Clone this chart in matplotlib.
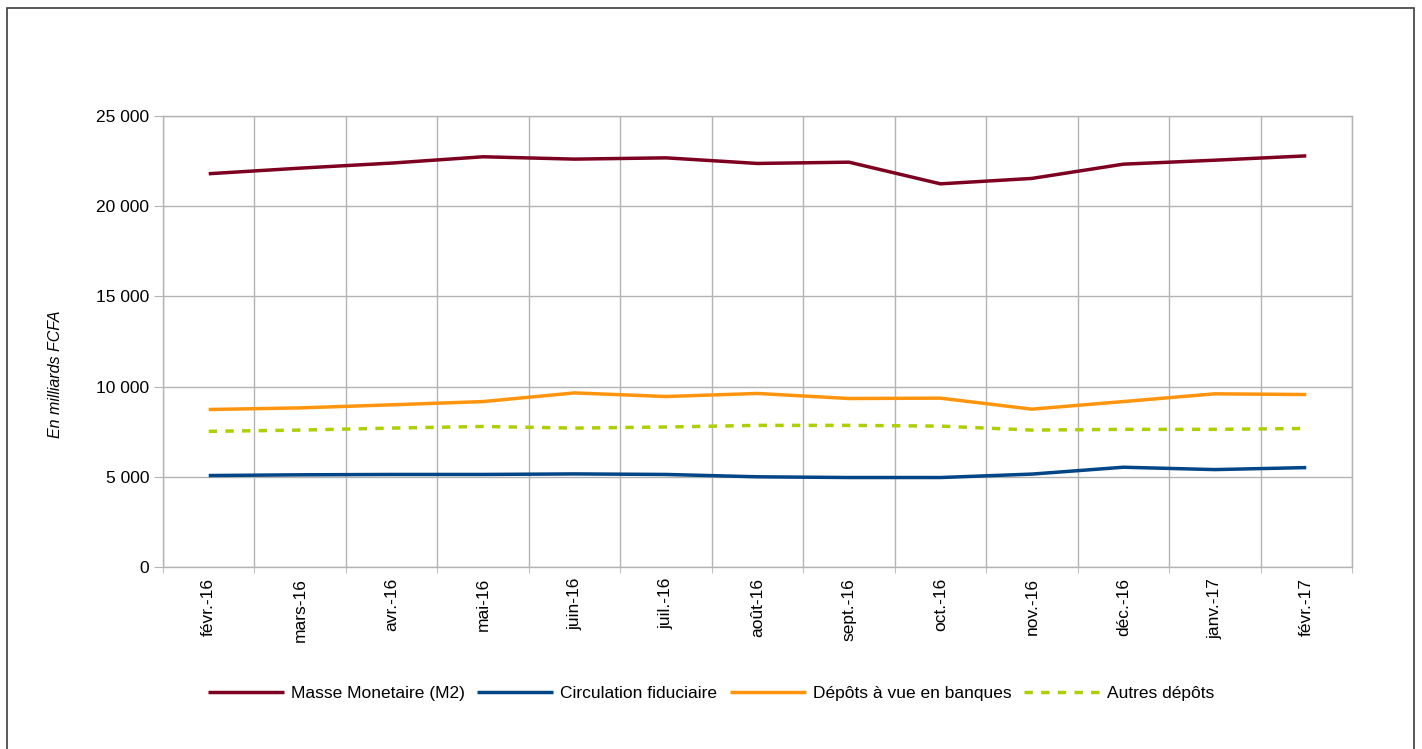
import numpy as np
import matplotlib
matplotlib.use('Agg')
import matplotlib.pyplot as plt
from matplotlib.patches import Rectangle
from matplotlib.ticker import FuncFormatter, FixedLocator

plt.rcParams['font.family'] = ['Liberation Sans', 'DejaVu Sans']

# data (milliards FCFA)
months = ['févr.-16', 'mars-16', 'avr.-16', 'mai-16', 'juin-16', 'juil.-16',
          'août-16', 'sept.-16', 'oct.-16', 'nov.-16', 'déc.-16', 'janv.-17',
          'févr.-17']
masse_monetaire = [21800, 22110, 22390, 22740, 22610, 22680, 22370,
                   22440, 21240, 21540, 22330, 22550, 22790]
circulation_fiduciaire = [5070, 5110, 5130, 5130, 5160, 5130, 5000,
                          4960, 4960, 5150, 5530, 5400, 5510]
depots_a_vue = [8730, 8820, 8990, 9170, 9650, 9450, 9620,
                9340, 9360, 8750, 9170, 9600, 9560]
autres_depots = [7520, 7590, 7700, 7790, 7700, 7760, 7850,
                 7850, 7810, 7590, 7630, 7630, 7680]

series = [
    ('Masse Monetaire (M2)', masse_monetaire, '#7E0021', '-'),
    ('Circulation fiduciaire', circulation_fiduciaire, '#004586', '-'),
    ('Dépôts à vue en banques', depots_a_vue, '#FF950E', '-'),
    ('Autres dépôts', autres_depots, '#AECF00', (0, (2.4, 2.4))),
]

W, H = 1422, 749
fig = plt.figure(figsize=(W / 100, H / 100), dpi=100)
ax = fig.add_axes([163 / W, 1 - 567 / H, (1352 - 163) / W, (567 - 116) / H])

x = np.arange(len(months))
for label, values, color, ls in series:
    ax.plot(x, values, color=color, linestyle=ls, linewidth=2.5,
            label=label, solid_capstyle='butt', dash_capstyle='butt')

grid_color = '#B3B3B3'
ax.set_xlim(-0.5, len(months) - 0.5)
ax.set_ylim(0, 25000)
ax.set_yticks(np.arange(0, 25001, 5000))
ax.yaxis.set_major_formatter(
    FuncFormatter(lambda v, p: f'{int(v):,}'.replace(',', ' ')))
ax.set_xticks(x)
ax.set_xticklabels(months, rotation=90, fontsize=12.5)
ax.xaxis.set_minor_locator(FixedLocator(np.arange(-0.5, len(months), 1)))

ax.tick_params(axis='x', which='major', length=0, pad=8)
ax.tick_params(axis='x', which='minor', length=4.5, color=grid_color)
ax.tick_params(axis='y', length=6.5, color=grid_color, labelsize=12.5, pad=3.5)

ax.grid(True, axis='y', color=grid_color, linewidth=1)
ax.grid(True, axis='x', which='minor', color=grid_color, linewidth=1)
ax.set_axisbelow(True)
for sp in ax.spines.values():
    sp.set_color(grid_color)
    sp.set_linewidth(1)

fig.text(56 / W, 1 - 374 / H, 'En milliards FCFA', rotation=90,
         style='italic', fontsize=11.5, ha='center', va='center')

fig.legend(loc='center', bbox_to_anchor=(0.5, 1 - 693 / H), ncol=4,
           frameon=False, fontsize=12.5, handlelength=4.4,
           handletextpad=0.4, columnspacing=0.7)

# outer frame of the chart object
fig.patches.append(Rectangle((7 / W, -0.02), (1414 - 7) / W, 1.02 - 8 / H,
                             transform=fig.transFigure, fill=False,
                             edgecolor='#3c3c3c', linewidth=1.2))

fig.savefig('out.png', dpi=100)
